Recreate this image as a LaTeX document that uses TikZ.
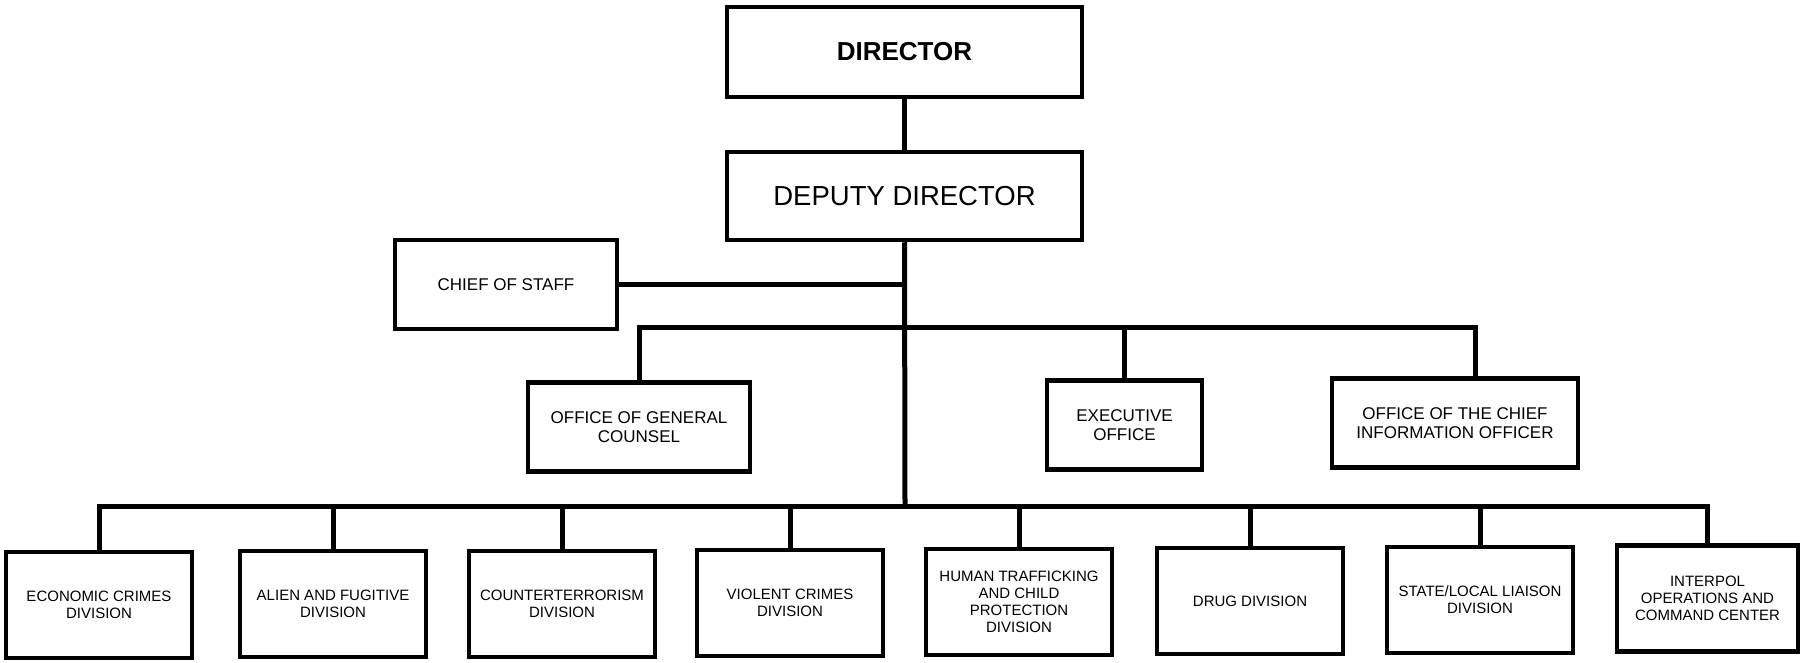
\documentclass[tikz,border=0pt]{standalone}
\usepackage{fontspec}
\setmainfont{Liberation Sans}
\begin{document}
\begin{tikzpicture}[x=1pt,y=-1pt,
  box/.style={draw, line width=4.5pt, inner sep=0pt, align=center, fill=white},
  midbox/.style={box, minimum height=89pt, font=\fontsize{17}{19.5}\selectfont},
  lowbox/.style={box, minimum width=186pt, minimum height=106pt, font=\fontsize{15}{17.2}\selectfont},
  conn/.style={line width=5pt, line join=miter}]
\useasboundingbox[fill=white] (0,0) rectangle (1803,663);
% top
\node[box, minimum width=355pt, minimum height=90pt, font=\bfseries\fontsize{26}{30}\selectfont] (dir) at (904.5,52) {DIRECTOR};
\node[box, minimum width=355pt, minimum height=88pt, font=\fontsize{27.5}{31}\selectfont] (dep) at (904.5,196) {DEPUTY DIRECTOR};
\node[midbox, minimum width=222pt] (cos) at (506,284.5) {CHIEF OF STAFF};
% middle row
\node[midbox, minimum width=222pt] (ogc) at (639,427) {OFFICE OF GENERAL\\COUNSEL};
\node[midbox, minimum width=155pt] (exe) at (1124.5,425) {EXECUTIVE\\OFFICE};
\node[midbox, minimum width=246pt] (cio) at (1455,423) {OFFICE OF THE CHIEF\\INFORMATION OFFICER};
% bottom row
\node[lowbox] (ecd) at (99,605) {ECONOMIC CRIMES\\DIVISION};
\node[lowbox] (afd) at (333,604) {ALIEN AND FUGITIVE\\DIVISION};
\node[lowbox] (ctd) at (562,604) {COUNTERTERRORISM\\DIVISION};
\node[lowbox] (vcd) at (790,603) {VIOLENT CRIMES\\DIVISION};
\node[lowbox] (htd) at (1019,602) {HUMAN TRAFFICKING\\AND CHILD\\PROTECTION\\DIVISION};
\node[lowbox] (drd) at (1250,601) {DRUG DIVISION};
\node[lowbox] (sld) at (1480,600) {STATE/LOCAL LIAISON\\DIVISION};
\node[lowbox, minimum width=181pt] (iop) at (1707.5,598.5) {INTERPOL\\OPERATIONS AND\\COMMAND CENTER};
% bus coordinates
\coordinate (mbus) at (905,327);
\coordinate (bbus) at (905,506);
\coordinate (cioin) at (1475,379);
% connectors
\draw[conn] (dir.south) -- (dep.north);
\draw[conn] (dep.south) -- (bbus);
\draw[conn] (cos.east) -- (cos.east -| dep.south);
\draw[conn] (ogc.north) |- (mbus) -| (cioin);
\draw[conn] (exe.north) -- (exe.north |- mbus);
\draw[conn] (ecd.north) |- (bbus) -| (iop.north);
\foreach \n in {afd,ctd,vcd,htd,drd,sld}
  \draw[conn] (\n.north) -- (\n.north |- bbus);
\end{tikzpicture}
\end{document}
